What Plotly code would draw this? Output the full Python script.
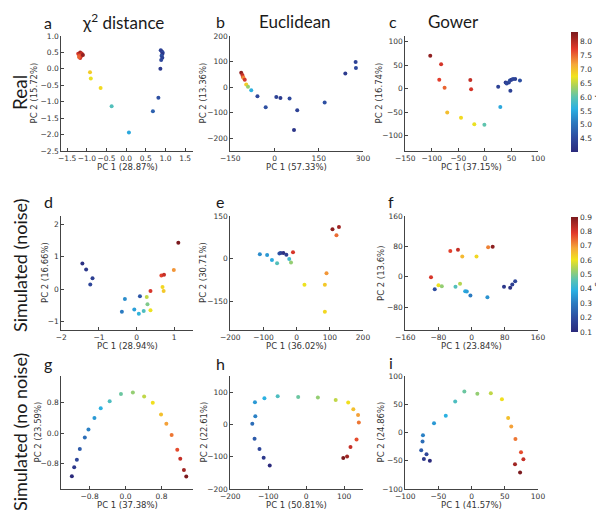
import plotly.graph_objects as go

W, H = 604, 510

# ---------------- data ----------------
# Row 1: real data, colour = soil pH
a_x = [-1.22, -1.17, -1.13, -1.19, -1.14, -1.17, -1.10, -1.20, -0.92, -0.90, -0.65, -0.37, 0.07,
       0.88, 0.91, 0.93, 0.92, 0.90, 0.92, 0.89, 0.87, 0.82, 0.68]
a_y = [0.46, 0.50, 0.47, 0.41, 0.39, 0.33, 0.42, 0.36, -0.10, -0.29, -0.58, -1.14, -1.94,
       0.57, 0.53, 0.49, 0.45, 0.40, 0.34, 0.27, 0.00, -0.88, -1.29]
a_c = [7.8, 8.1, 7.9, 7.6, 7.7, 7.8, 8.2, 7.5, 6.9, 6.7, 6.8, 5.9, 5.5,
       4.4, 4.3, 4.5, 4.2, 4.6, 4.4, 4.5, 4.3, 4.6, 4.8]

b_x = [-113, -109, -107, -105, -101, -96, -90, -79, -58, -30, 6, 20, 51, 77, 66, 170, 240, 275, 276]
b_y = [56, 47, 40, 36, 29, 10, 1, -12, -36, -79, -39, -43, -45, -91, -168, -60, 53, 98, 75]
b_c = [8.2, 7.9, 7.6, 7.3, 7.8, 6.9, 6.3, 5.6, 4.5, 4.6, 4.4, 4.3, 4.5, 4.4, 4.2, 4.6, 4.3, 4.4, 4.5]

c_x = [-103, -82.5, -86, -76, -27.5, -26, -71, -45, -20, -1, 29, 25, 39, 41, 45, 47, 50, 53, 57, 66, 48]
c_y = [70, 52, 19, 2, 18, -1.5, -51, -62, -76, -77, -39, 4, 13, 11, 13, 17, 19, 20.6, 20.6, 17, -4.4]
c_c = [8.2, 7.8, 7.7, 7.5, 7.9, 7.8, 7.0, 6.8, 6.7, 6.0, 5.5, 4.4, 4.3, 4.5, 4.4, 4.6, 4.3, 4.5, 4.4, 4.6, 4.4]

# Row 2: simulated with noise, colour = location on gradient
d_x = [-1.44, -1.34, -1.17, -1.23, 0.09, -0.31, -0.39, -0.06, 0.06, 0.19, 0.29, 0.27, 0.37, 0.69,
       0.72, 0.99, 0.37, 0.66, 0.73, 1.11]
d_y = [0.79, 0.61, 0.34, 0.15, -0.21, -0.30, -0.69, -0.62, -0.75, -0.67, -0.46, -0.24, -0.64, 0.07,
       -0.05, 0.59, -0.05, 0.42, 0.45, 1.43]
d_c = [0.12, 0.14, 0.16, 0.18, 0.22, 0.33, 0.30, 0.36, 0.40, 0.44, 0.50, 0.56, 0.60, 0.62,
       0.64, 0.70, 0.80, 0.78, 0.82, 0.90]

e_x = [-111, -89, -74.5, -59, -52, -48, -40, -31, -22.4, -17, -11, 23.5, 85, 90, 85, 108, 127.5, 120]
e_y = [16, 13, -4.6, -16, 18.6, 20, 20, 14, -1, -13, 23, -91, -91, -51, -186, 103.5, 111.6, 82.6]
e_c = [0.33, 0.35, 0.38, 0.45, 0.22, 0.18, 0.12, 0.16, 0.42, 0.52, 0.80, 0.60, 0.64, 0.70, 0.62, 0.88, 0.86, 0.74]

f_x = [-98, -89, -80, -72, -51.5, -33, -22.6, -39, -28, -15.6, -11.7, -3, 11.7, 39.8, 50.7, 38, 78, 93, 98, 105]
f_y = [-1, -32.5, -22, -24.6, 67.7, 71, 53.6, -26, -18.5, -37.8, -38.7, -49, 53.6, 78, 79, -53.6, -26, -29, -20, -11.4]
f_c = [0.80, 0.20, 0.60, 0.52, 0.78, 0.82, 0.66, 0.45, 0.55, 0.38, 0.36, 0.30, 0.62, 0.72, 0.88, 0.34,
       0.14, 0.12, 0.16, 0.18]

# Row 3: simulated without noise
arc_c = [0.10, 0.14, 0.18, 0.23, 0.27, 0.31, 0.35, 0.39, 0.44, 0.48,
         0.52, 0.56, 0.61, 0.65, 0.69, 0.73, 0.77, 0.82, 0.86, 0.90]

g_x = [-1.195, -1.143, -1.084, -1.018, -0.907, -0.826, -0.693, -0.553, -0.354, -0.103,
       0.162, 0.413, 0.605, 0.789, 0.907, 1.025, 1.150, 1.217, 1.298, 1.350]
g_y = [-1.143, -0.905, -0.703, -0.422, -0.114, 0.097, 0.396, 0.659, 0.844, 1.037,
       1.073, 0.967, 0.800, 0.492, 0.246, -0.053, -0.440, -0.677, -0.976, -1.152]

h_x = [-96, -112, -123, -136, -142, -134, -135, -110, -75, -21,
       31, 78, 111, 124.5, 137, 139, 133, 117, 108, 98]
h_y = [-127, -103, -76, -44, 2, 25, 69, 81, 87, 85,
       83.5, 76, 68, 47, 29, 6, -47, -70, -99, -104]

i_x = [-63, -72, -68, -76, -74, -73.4, -56.7, -39, -24.8, -11,
       8.6, 28.9, 45.6, 55, 59.7, 66, 74.4, 78, 65.3, 73]
i_y = [-50, -47, -38.6, -31.6, -15.8, -4.7, 16.4, 29.8, 55, 72.5,
       68.4, 69.6, 59, 25.7, 10.5, -11.7, -35, -47.4, -56, -70.8]

col_titles = ["χ<sup>2</sup> distance", "Euclidean", "Gower"]
row_titles = ["Real", "Simulated (noise)", "Simulated (no noise)"]
panel_letters = ["a", "b", "c", "d", "e", "f", "g", "h", "i"]
x_titles = ["PC 1 (28.87%)", "PC 1 (57.33%)", "PC 1 (37.15%)",
            "PC 1 (28.94%)", "PC 1 (36.02%)", "PC 1 (23.84%)",
            "PC 1 (37.38%)", "PC 1 (50.81%)", "PC 1 (41.57%)"]
y_titles = ["PC 2 (15.72%)", "PC 2 (13.36%)", "PC 2 (16.74%)",
            "PC 2 (16.66%)", "PC 2 (30.71%)", "PC 2 (13.6%)",
            "PC 2 (23.59%)", "PC 2 (22.61%)", "PC 2 (24.86%)"]
ph_ticks = [4.5, 5.0, 5.5, 6.0, 6.5, 7.0, 7.5, 8.0]
grad_ticks = [0.1, 0.2, 0.3, 0.4, 0.5, 0.6, 0.7, 0.8, 0.9]

# ---------------- styling ----------------
cscale = [[0.0, "#2b2a7c"], [0.12, "#2e4b9f"], [0.25, "#2b7bc1"], [0.36, "#2bb0e2"],
          [0.46, "#5fc4ae"], [0.55, "#a9d25c"], [0.63, "#f1e31c"], [0.73, "#f5a73a"],
          [0.86, "#e2392b"], [1.0, "#7b1a1e"]]

# panel pixel boxes (left, right, top, bottom)
cols_px = [(53.3, 185), (222.3, 355), (397.3, 530)]
rows_px = [(28, 143), (208, 322), (368, 481)]

panels = [
    (a_x, a_y, a_c, "coloraxis", [-1.65, 1.7], 0.5, ".1f", [-2.5, 1.0], 0.5, ".1f"),
    (b_x, b_y, b_c, "coloraxis", [-150, 300], 150, "d", [-250, 200], 100, "d"),
    (c_x, c_y, c_c, "coloraxis", [-150, 100], 50, "d", [-133, 112], 50, "d"),
    (d_x, d_y, d_c, "coloraxis2", [-2, 1.5], 1, "d", [-1.25, 2.25], 1, "d"),
    (e_x, e_y, e_c, "coloraxis2", [-200, 200], 100, "d", [-250, 150], 150, "d"),
    (f_x, f_y, f_c, "coloraxis2", [-160, 160], 80, "d", [-140, 160], 80, "d"),
    (g_x, g_y, arc_c, "coloraxis2", [-1.43, 1.5], 0.8, ".1f", [-1.48, 1.51], 0.8, ".1f"),
    (h_x, h_y, arc_c, "coloraxis2", [-200, 150], 100, "d", [-200, 150], 100, "d"),
    (i_x, i_y, arc_c, "coloraxis2", [-100, 100], 50, "d", [-100, 100], 50, "d"),
]

TICKFONT = dict(family="DejaVu Sans", size=7.5, color="#333333")
TITLEFONT = dict(family="DejaVu Sans", size=8.5, color="#333333")
BIGFONT = "Lato"

fig = go.Figure()
layout = dict(
    width=W, height=H, margin=dict(l=0, r=0, t=0, b=0, autoexpand=False),
    paper_bgcolor="white", plot_bgcolor="white", showlegend=False,
)
annotations = []

for k, (xs, ys, cs, cax, xr, xd, xf, yr, yd, yf) in enumerate(panels):
    r, c = divmod(k, 3)
    n = "" if k == 0 else str(k + 1)
    fig.add_trace(go.Scatter(
        x=xs, y=ys, mode="markers", xaxis="x" + n, yaxis="y" + n,
        marker=dict(size=4, color=cs, coloraxis=cax, line=dict(width=0)),
        hoverinfo="skip"))
    l, rr = cols_px[c]
    t, b = rows_px[r]
    common = dict(showline=True, linecolor="#444444", linewidth=1, mirror=False,
                  showgrid=False, zeroline=False, ticks="inside", ticklen=3,
                  tickcolor="#444444", tickfont=TICKFONT, tickangle=0, automargin=False)
    layout["xaxis" + n] = dict(domain=[l / W, rr / W], range=xr, dtick=xd, tick0=0,
                               tickformat=xf, anchor="y" + n, **common)
    layout["yaxis" + n] = dict(domain=[(H - b) / H, (H - t) / H], range=yr, dtick=yd, tick0=0,
                               tickformat=yf, anchor="x" + n, **common)
    # axis titles
    annotations.append(dict(text=x_titles[k], x=(l + rr) / 2 / W, y=(H - (b + 16)) / H,
                            xref="paper", yref="paper", showarrow=False,
                            xanchor="center", yanchor="middle", font=TITLEFONT))
    ytx = [[26, 195, 371], [37, 195, 373], [29, 195, 372]][r][c]
    annotations.append(dict(text=y_titles[k], x=ytx / W, y=(H - (t + b) / 2) / H,
                            xref="paper", yref="paper", showarrow=False, textangle=-90,
                            xanchor="center", yanchor="middle", font=TITLEFONT))

# panel letters
letter_pos = [(40, 14), (212, 13), (385, 13), (40, 193), (212, 193), (383, 193),
              (40, 355), (212, 355), (383, 354)]
for lt, (px, py) in zip(panel_letters, letter_pos):
    annotations.append(dict(text=lt, x=px / W, y=(H - py) / H, xref="paper", yref="paper",
                            showarrow=False, xanchor="center", yanchor="middle",
                            font=dict(family=BIGFONT, size=16, color="#1a1a1a")))
# column titles
for ct, px in zip(col_titles, [115, 287, 445]):
    annotations.append(dict(text=ct, x=px / W, y=(H - 13) / H, xref="paper", yref="paper",
                            showarrow=False, xanchor="center", yanchor="middle",
                            font=dict(family=BIGFONT, size=17, color="#1a1a1a")))
# row titles
for rt, py, fs in zip(row_titles, [85, 258, 424], [19, 18, 18]):
    annotations.append(dict(text=rt, x=12 / W, y=(H - py) / H, xref="paper", yref="paper",
                            showarrow=False, textangle=-90, xanchor="center", yanchor="middle",
                            font=dict(family=BIGFONT, size=fs, color="#1a1a1a")))
# colourbar titles
annotations.append(dict(text="soil pH", x=592 / W, y=(H - 84) / H, xref="paper", yref="paper",
                        showarrow=False, textangle=90, xanchor="center", yanchor="middle",
                        font=dict(family="DejaVu Sans", size=9, color="#333333")))
annotations.append(dict(text="location on gradient", x=592 / W, y=(H - 266) / H, xref="paper",
                        yref="paper", showarrow=False, textangle=90, xanchor="center",
                        yanchor="middle", font=dict(family="DejaVu Sans", size=9, color="#333333")))

cb_common = dict(x=563 / W, xanchor="left", thickness=7, thicknessmode="pixels",
                 lenmode="pixels", outlinewidth=0, ticks="", xpad=0, ypad=0,
                 tickfont=dict(family="DejaVu Sans", size=7.5, color="#333333"),
                 yanchor="middle")
layout["coloraxis"] = dict(colorscale=cscale, cmin=4.03, cmax=8.32,
                           colorbar=dict(len=120, y=(H - 84) / H, tickvals=ph_ticks,
                                         ticktext=["%.1f" % v for v in ph_ticks], **cb_common))
layout["coloraxis2"] = dict(colorscale=cscale, cmin=0.1, cmax=0.9,
                            colorbar=dict(len=115, y=(H - 266.5) / H, tickvals=grad_ticks,
                                          ticktext=["%.1f" % v for v in grad_ticks], **cb_common))
layout["annotations"] = annotations
fig.update_layout(**layout)
fig.write_html("out.html")
